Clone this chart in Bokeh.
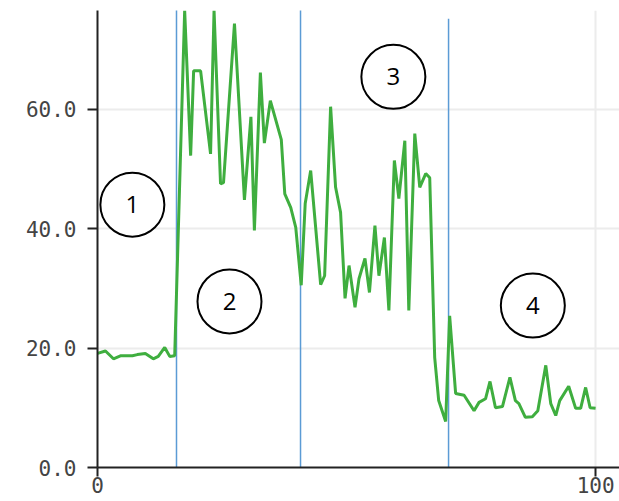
from bokeh.plotting import figure
from bokeh.models import Range1d, FixedTicker, CustomJSTickFormatter
from bokeh.embed import file_html
from bokeh.resources import INLINE
from bokeh.core.properties import value

# series values (x, y)
x_vals = [0, 1.6, 3.2, 4.6, 7.0, 8.0, 9.6, 11.2, 12.2, 13.5, 14.5, 15.5, 17.5, 18.7, 19.3, 20.7,
          22.7, 23.4, 24.7, 25.3, 27.5, 29.5, 30.8, 31.5, 32.7, 33.5, 34.7, 36.9, 37.6, 38.8, 39.8,
          40.9, 41.7, 42.8, 44.8, 45.6, 46.8, 47.8, 48.8, 49.7, 50.5, 51.7, 52.5, 53.7, 54.6, 55.7,
          56.5, 57.6, 58.5, 59.6, 60.5, 61.7, 62.5, 63.7, 64.7, 65.9, 66.7, 67.7, 68.5, 69.9, 70.7,
          71.9, 73.6, 75.6, 76.6, 77.9, 78.8, 79.9, 81.3, 82.8, 83.9, 84.6, 85.9, 87.3, 88.4, 90.0,
          91.0, 92.0, 92.8, 94.6, 96.0, 97.0, 98.0, 98.9, 100]
y_vals = [19.1, 19.5, 18.2, 18.7, 18.7, 18.9, 19.1, 18.2, 18.6, 20.1, 18.6, 18.7, 76.5, 52.2, 66.4,
          66.4, 52.5, 76.5, 47.5, 47.7, 74.3, 44.8, 58.7, 39.7, 66.1, 54.3, 61.4, 54.9, 45.8, 43.5,
          40.2, 30.5, 44.2, 49.7, 30.6, 32.1, 60.4, 46.9, 42.7, 28.3, 33.8, 26.8, 31.6, 35.0, 29.3,
          40.5, 32.1, 38.5, 26.3, 51.4, 45.0, 54.7, 26.3, 55.9, 46.9, 49.2, 48.5, 18.4, 11.2, 7.7,
          25.4, 12.4, 12.1, 9.5, 10.9, 11.5, 14.4, 10.0, 10.2, 15.1, 11.2, 10.7, 8.4, 8.5, 9.5,
          17.1, 10.7, 8.7, 11.2, 13.6, 9.9, 9.9, 13.4, 10.0, 9.9]

# phase boundaries
boundary_x = [15.86, 40.76, 70.48]
boundary_top = [77.5, 77.5, 75.1]

# phase labels
phase_labels = ["1", "2", "3", "4"]
phase_x = [7.0, 26.5, 59.4, 87.4]
phase_y = [44.0, 27.8, 65.4, 27.1]

x_ticks = [0, 100]
y_ticks = [0, 20, 40, 60]

p = figure(width=619, height=501, output_backend="svg", toolbar_location=None,
           x_range=Range1d(0, 104.8), y_range=Range1d(0, 76.5),
           min_border_left=97, min_border_right=0, min_border_top=10, min_border_bottom=34)
p.outline_line_color = None
p.background_fill_color = "white"
p.border_fill_color = "white"

p.xgrid.ticker = FixedTicker(ticks=x_ticks)
p.ygrid.ticker = FixedTicker(ticks=y_ticks)
p.xgrid.grid_line_color = "#ececec"
p.ygrid.grid_line_color = "#ececec"
p.xgrid.grid_line_width = 2
p.ygrid.grid_line_width = 2

for ax, ticks in ((p.xaxis[0], x_ticks), (p.yaxis[0], y_ticks)):
    ax.ticker = FixedTicker(ticks=ticks)
    ax.axis_line_color = "#222222"
    ax.axis_line_width = 2
    ax.major_tick_line_color = "#222222"
    ax.major_tick_line_width = 2
    ax.major_tick_out = 10
    ax.major_tick_in = 0
    ax.minor_tick_line_color = None
    ax.major_label_text_font = "DejaVu Sans Mono"
    ax.major_label_text_font_size = "21px"
    ax.major_label_text_color = "#444444"

p.yaxis[0].formatter = CustomJSTickFormatter(code="return tick.toFixed(1);")
p.yaxis[0].major_label_standoff = 11
p.xaxis[0].major_tick_out = 9
p.xaxis[0].major_label_standoff = 0

p.segment(x0=boundary_x, y0=[0] * len(boundary_x), x1=boundary_x, y1=boundary_top,
          line_color="#5b9bd5", line_width=1.5)

p.line(x_vals, y_vals, line_color="#3fae3f", line_width=3)

p.scatter(phase_x, phase_y, size=64, fill_color="white", line_color="black", line_width=2)
p.text(phase_x, phase_y, text=phase_labels, text_align="center", text_baseline="middle",
       text_font=value("Open Sans"), text_font_size="24px", text_color="black")

open("out.html", "w").write(file_html(p, INLINE))
